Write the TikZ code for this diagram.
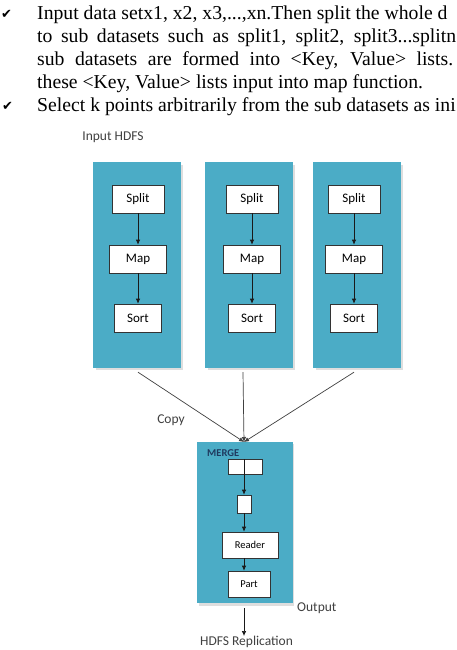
\documentclass[tikz,border=0pt]{standalone}
\usepackage{fontspec}
\setmainfont{Liberation Serif}
\newfontfamily\labelfont{Carlito}
\newfontfamily\tickfont{DejaVu Sans}
\usetikzlibrary{positioning,arrows.meta}

\definecolor{panelblue}{HTML}{4BACC6}
\definecolor{mergenavy}{HTML}{1F3A5F}

\begin{document}
\begin{tikzpicture}[x=1pt,y=-1pt,>={Latex[length=5pt,width=4.5pt]},
  panel/.style={fill=panelblue,draw=panelblue,inner sep=0pt},
  panelshadow/.style={fill=black!13},
  box/.style={draw=black!80,fill=white,line width=0.6pt,inner sep=0pt,
    font=\labelfont\fontsize{13}{13}\selectfont},
  smallbox/.style={box,font=\labelfont\fontsize{10.5}{11}\selectfont},
  flow/.style={->,line width=0.7pt,black!90},
  label/.style={text=black!75,inner sep=0pt,font=\labelfont\fontsize{13.5}{14}\selectfont},
  bodyline/.style={anchor=base west,inner sep=0pt,font=\fontsize{19.7}{22}\selectfont},
  tick/.style={anchor=base west,inner sep=0pt,font=\tickfont\fontsize{13}{13}\selectfont}]

  \useasboundingbox (0,0) rectangle (457,650);
  \clip (0,0) rectangle (457,650);
  \fill[white] (0,0) rectangle (457,650);

  % text lines above the figure
  \node[tick] (tick1) at (1,19) {✔};
  \node[bodyline] (line1) at (37,20) {Input data setx1, x2, x3,...,xn.Then split the whole d};
  \node[bodyline] (line2) at (37,43) {\makebox[419pt][s]{to sub datasets such as split1, split2, split3...splitn}};
  \node[bodyline] (line3) at (37,66) {\makebox[416pt][s]{sub datasets are formed into <Key, Value> lists.}};
  \node[bodyline] (line4) at (37,89) {these <Key, Value> lists input into map function.};
  \node[tick] (tick2) at (2,111) {✔};
  \node[bodyline] (line5) at (37,112) {Select k points arbitrarily from the sub datasets as ini};

  \node[label] (input) at (113,137) {Input HDFS};

  % the three map panels
  \foreach \n/\px/\bx in {1/136.5/138, 2/248.5/252, 3/356.5/354} {
    \fill[panelshadow] (\px-43.5+3,165) rectangle (\px+43.5+3,370);
    \node[panel,minimum width=87,minimum height=205] (panel\n) at (\px,264.5) {};
    \node[box,minimum width=52,minimum height=28] (split\n) at (\bx,199) {Split};
    \node[box,minimum width=57,minimum height=28] (map\n) at (\bx,259) {Map};
    \node[box,minimum width=47,minimum height=28] (sort\n) at (\bx,318) {Sort};
    \draw[flow] (split\n) -- (map\n);
    \draw[flow] (map\n) -- (sort\n);
  }

  % merge panel
  \fill[panelshadow] (199,444) rectangle (294,606);
  \node[panel,minimum width=95,minimum height=160] (merge) at (244.5,522) {};
  \node[anchor=west,inner sep=0pt,text=mergenavy,font=\labelfont\bfseries\fontsize{10.5}{11}\selectfont]
    (mergetitle) at (207,453) {MERGE};
  \node[smallbox,minimum width=34,minimum height=15] (buf1) at (245,466.5) {};
  \node[smallbox,minimum width=14,minimum height=18] (buf2) at (244,504) {};
  \node[smallbox,minimum width=56,minimum height=26] (reader) at (250,545) {Reader};
  \node[smallbox,minimum width=42,minimum height=26] (part) at (249,584) {Part};
  \coordinate (mid) at (244,459);
  \draw[flow] (mid) -- (buf2.north);
  \draw[flow] (buf2.south) -- (buf2.south |- reader.north);
  \draw[flow] (reader.south -| buf2.south) -- (buf2.south |- part.north);

  % copies going into the merge
  \coordinate (mergein) at (244,442);
  \draw[flow,black!75] ([xshift=1.5pt,yshift=-5pt]panel1.south) -- (mergein);
  \draw[flow,black!75] ([xshift=-5.5pt,yshift=-5pt]panel2.south) -- (mergein);
  \draw[flow,black!75] ([xshift=-2.5pt,yshift=-5pt]panel3.south) -- (mergein);
  \node[label] (copy) at (171,420) {Copy};

  % output
  \node[label,anchor=west] (output) at (297,608) {Output};
  \node[label] (hdfs) at (246.5,642) {HDFS Replication};
  \coordinate (mergeout) at (244,608);
  \draw[flow] (mergeout) -- (mergeout |- hdfs.north);

\end{tikzpicture}
\end{document}
